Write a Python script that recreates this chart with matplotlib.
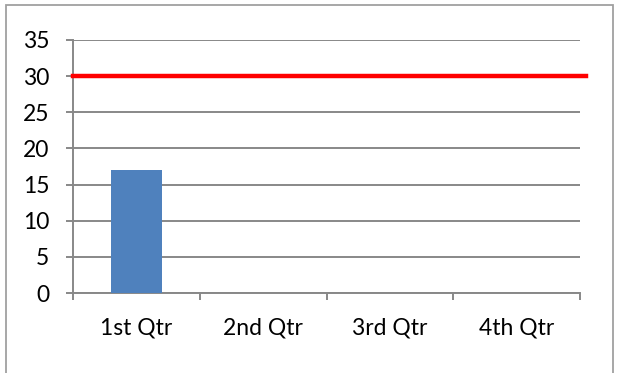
import matplotlib
matplotlib.use("Agg")
import matplotlib.pyplot as plt
from matplotlib.patches import Rectangle

# chart data
quarters = ["1st Qtr", "2nd Qtr", "3rd Qtr", "4th Qtr"]
values = [17, 0, 0, 0]
target = 30
y_ticks = [0, 5, 10, 15, 20, 25, 30, 35]

plt.rcParams['font.family'] = ['Lato', 'DejaVu Sans']

fig = plt.figure(figsize=(6.18, 3.73), dpi=100)
ax = fig.add_axes([73 / 618, 80 / 373, 507 / 618, 253 / 373])

grid_col = '#888888'
ax.bar(range(len(quarters)), values, width=0.4, color='#4F81BD', zorder=3)

# horizontal target line, runs a bit past the plot area on the right
ax.axhline(target, xmin=0, xmax=1.012, color='#FF0000', lw=3.2, clip_on=False, zorder=4)

ax.set_xlim(-0.5, 3.5)
ax.set_ylim(0, 35)
ax.set_yticks(y_ticks)
ax.yaxis.grid(True, color=grid_col, lw=1.4, zorder=0)
ax.set_axisbelow(True)

# category ticks sit between the bars
ax.set_xticks([i - 0.5 for i in range(len(quarters) + 1)], minor=False)
ax.set_xticklabels([])
ax.set_xticks(range(len(quarters)), minor=True)
ax.set_xticklabels(quarters, minor=True, fontsize=16.5)
ax.tick_params(axis='x', which='minor', length=0, pad=17.5)
ax.tick_params(axis='x', which='major', length=5, width=1.4, color=grid_col)
ax.tick_params(axis='y', length=5, width=1.4, color=grid_col, labelsize=16.5, pad=12)

for s in ['top', 'right']:
    ax.spines[s].set_visible(False)
for s in ['left', 'bottom']:
    ax.spines[s].set_color(grid_col)
    ax.spines[s].set_linewidth(1.4)

# outer chart border (bottom edge cut off in the original)
fig.patches.append(Rectangle((6 / 618, -0.05), 607 / 618, 1.05 - 5 / 373,
                             transform=fig.transFigure, fill=False,
                             edgecolor='#A0A0A0', lw=1.3))

fig.savefig('out.png', dpi=100)
